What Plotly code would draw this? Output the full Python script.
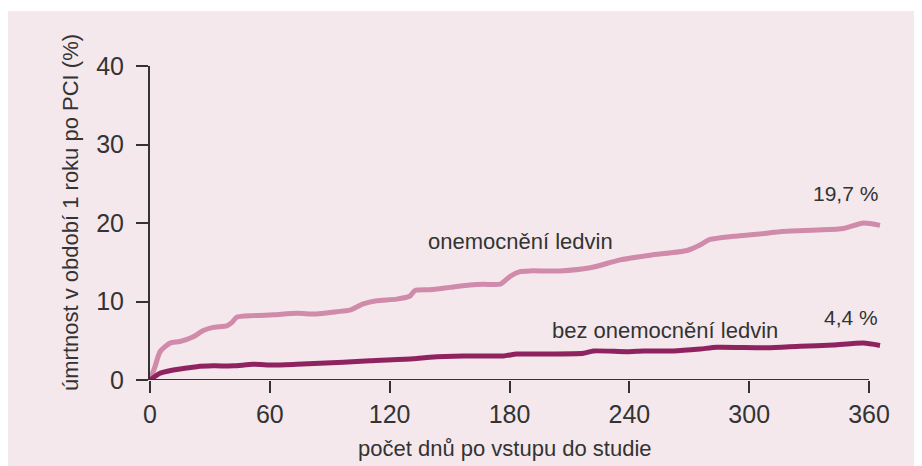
import plotly.graph_objects as go

# ---- data ----
days_ckd = [0, 2.5, 5, 10, 15, 21.7, 26.7, 31.7, 38.4, 40.9, 43.4, 51.7, 61.7, 73.4, 83.4,
            93.4, 100, 106.8, 113.5, 123.5, 130.2, 132.7, 140.2, 150.2, 160.2, 166.9, 175.3,
            180.3, 185.3, 190.3, 205.3, 220.4, 235.4, 250.4, 268.8, 275.4, 280.4, 292,
            308.8, 315.5, 333.8, 347.2, 357.2, 365.5]
mort_ckd = [0, 1.7, 3.6, 4.7, 4.9, 5.5, 6.3, 6.7, 6.9, 7.3, 8.0, 8.2, 8.3, 8.5, 8.4,
            8.7, 8.9, 9.7, 10.1, 10.3, 10.7, 11.4, 11.5, 11.8, 12.1, 12.2, 12.2,
            13.2, 13.8, 13.9, 13.9, 14.3, 15.3, 15.9, 16.5, 17.2, 17.9, 18.3,
            18.7, 18.9, 19.1, 19.3, 20.0, 19.7]

days_no = [0, 5, 11.7, 23.4, 31.7, 41.7, 51.7, 61.7, 73.4, 96.8, 110.1, 131.8, 140.2,
           156.9, 176.9, 183.6, 197, 217, 222, 238.7, 247, 253.8, 262, 275.4, 283.8,
           308.8, 325.5, 342.2, 357.2, 365.5]
mort_no = [0, 0.85, 1.27, 1.7, 1.8, 1.8, 2.0, 1.9, 2.0, 2.25, 2.46, 2.7, 2.9,
           3.06, 3.06, 3.3, 3.3, 3.4, 3.7, 3.6, 3.7, 3.7, 3.7, 3.95, 4.16,
           4.1, 4.3, 4.46, 4.7, 4.4]

x_ticks = [0, 60, 120, 180, 240, 300, 360]
y_ticks = [0, 10, 20, 30, 40]

series_names = ["onemocnění ledvin", "bez onemocnění ledvin"]
end_labels = ["19,7 %", "4,4 %"]
p_text = "p = 0,0001"
x_title = "počet dnů po vstupu do studie"
y_title = "úmrtnost v období 1 roku po PCI (%)"

# ---- style ----
BG = "#f4e8ed"
TXT = "#333333"
C_LIGHT = "#d08aaa"
C_DARK = "#8e2360"
FONT = "Liberation Sans, Arial, sans-serif"
FONT_N = "Liberation Sans Narrow, Liberation Sans, Arial, sans-serif"

fig = go.Figure()
fig.add_trace(go.Scatter(x=days_ckd, y=mort_ckd, mode="lines", name=series_names[0],
                         line=dict(color=C_LIGHT, width=5, shape="spline", smoothing=0.6)))
fig.add_trace(go.Scatter(x=days_no, y=mort_no, mode="lines", name=series_names[1],
                         line=dict(color=C_DARK, width=5, shape="spline", smoothing=0.6)))

# page body adds an 8px offset; measurements below are in figure pixels
L, R, T, B = 142, 49, 58, 94
W, H = 922, 466
pw = W - L - R
ph = H - T - B
OFF = 8

def px(xs):
    return (xs - OFF - L) / pw

def py(ys):
    return (H - B - (ys - OFF)) / ph

shapes = [
    # pink panel background
    dict(type="rect", xref="paper", yref="paper", x0=px(7), x1=px(940), y0=py(480), y1=py(11),
         fillcolor=BG, line=dict(width=0), layer="below"),
    # x-axis line (0..360 only)
    dict(type="line", xref="x", yref="y", x0=0, x1=360, y0=0, y1=0,
         line=dict(color=TXT, width=2), layer="above"),
]

annotations = [
    dict(text=p_text, xref="x", yref="y", x=18.5, y=41.4, xanchor="left", yanchor="middle",
         showarrow=False, font=dict(family=FONT, size=22, color=TXT)),
    dict(text=series_names[0], xref="x", yref="y", x=185.3, y=17.6, xanchor="center", yanchor="middle",
         showarrow=False, font=dict(family=FONT, size=22, color=TXT)),
    dict(text=series_names[1], xref="x", yref="y", x=257.9, y=6.37, xanchor="center", yanchor="middle",
         showarrow=False, font=dict(family=FONT, size=22, color=TXT)),
    dict(text=end_labels[0], xref="x", yref="y", x=365.5, y=23.8, xanchor="right", yanchor="middle",
         showarrow=False, font=dict(family=FONT, size=21, color=TXT)),
    dict(text=end_labels[1], xref="x", yref="y", x=365.5, y=7.9, xanchor="right", yanchor="middle",
         showarrow=False, font=dict(family=FONT, size=21, color=TXT)),
    dict(text=x_title, xref="paper", yref="paper", x=px(505), y=py(448), xanchor="center", yanchor="middle",
         showarrow=False, font=dict(family=FONT_N, size=22, color=TXT)),
    dict(text=y_title, xref="paper", yref="paper", x=px(70), y=py(213), xanchor="center", yanchor="middle",
         textangle=-90, showarrow=False, font=dict(family=FONT, size=22, color=TXT)),
]

fig.update_layout(
    width=W, height=H,
    margin=dict(l=L, r=R, t=T, b=B, pad=0),
    paper_bgcolor="white",
    plot_bgcolor=BG,
    showlegend=False,
    shapes=shapes,
    annotations=annotations,
    xaxis=dict(range=[0, 366], tickvals=x_ticks, ticktext=[str(v) for v in x_ticks],
               showgrid=False, zeroline=False, showline=False,
               ticks="outside", ticklen=12, tickwidth=2, tickcolor=TXT,
               tickfont=dict(family=FONT_N, size=25, color=TXT), fixedrange=True),
    yaxis=dict(range=[0, 40], tickvals=y_ticks, ticktext=[str(v) for v in y_ticks],
               showgrid=False, zeroline=False, showline=True, linecolor=TXT, linewidth=2,
               ticks="outside", ticklen=12, tickwidth=2, tickcolor=TXT,
               ticklabelstandoff=7,
               tickfont=dict(family=FONT_N, size=25, color=TXT), fixedrange=True),
)

fig.write_html("out.html")
